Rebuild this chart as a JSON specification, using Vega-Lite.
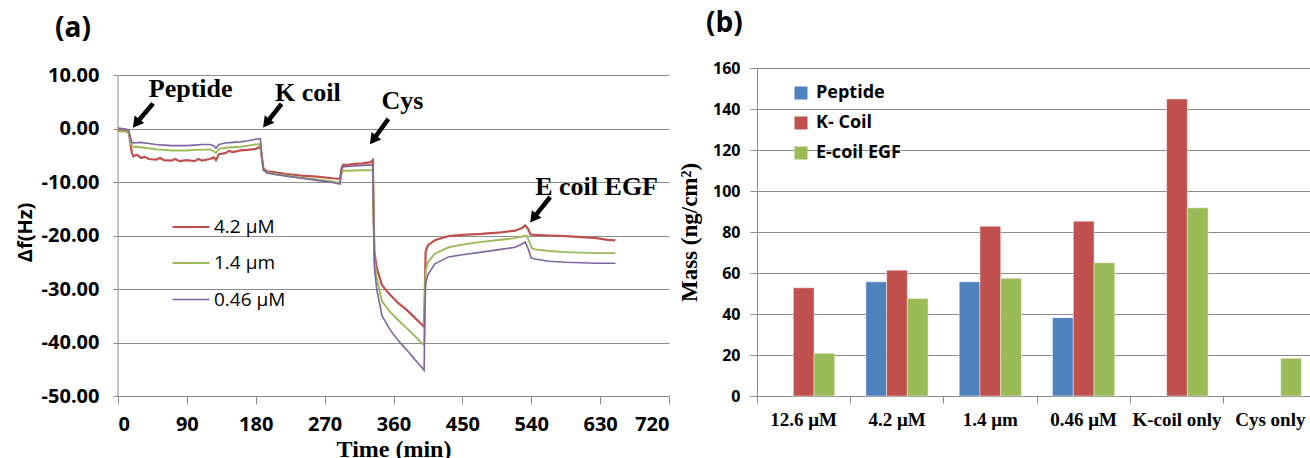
{
  "$schema": "https://vega.github.io/schema/vega-lite/v6.json",
  "padding": {"left": 15, "top": 10, "right": 0, "bottom": 0},
  "background": "white",
  "config": {"view": {"stroke": null}, "font": "Open Sans"},
  "datasets": {
    "qcm": [
      {"s":"4.2 μM","t":0,"v":-0.3},{"s":"4.2 μM","t":5,"v":-0.5},{"s":"4.2 μM","t":10,"v":-0.4},{"s":"4.2 μM","t":14,"v":-0.7},{"s":"4.2 μM","t":16,"v":-2.5},{"s":"4.2 μM","t":18,"v":-4.5},{"s":"4.2 μM","t":20,"v":-5.2},{"s":"4.2 μM","t":25,"v":-4.9},{"s":"4.2 μM","t":30,"v":-5.5},{"s":"4.2 μM","t":35,"v":-5.3},{"s":"4.2 μM","t":40,"v":-5.7},{"s":"4.2 μM","t":50,"v":-5.8},{"s":"4.2 μM","t":55,"v":-5.5},{"s":"4.2 μM","t":60,"v":-5.9},{"s":"4.2 μM","t":70,"v":-6.0},{"s":"4.2 μM","t":75,"v":-5.7},{"s":"4.2 μM","t":80,"v":-6.1},{"s":"4.2 μM","t":90,"v":-5.9},{"s":"4.2 μM","t":100,"v":-6.1},{"s":"4.2 μM","t":105,"v":-5.7},{"s":"4.2 μM","t":110,"v":-6.0},{"s":"4.2 μM","t":120,"v":-5.7},{"s":"4.2 μM","t":125,"v":-5.4},{"s":"4.2 μM","t":128,"v":-5.9},{"s":"4.2 μM","t":132,"v":-4.8},{"s":"4.2 μM","t":140,"v":-4.6},{"s":"4.2 μM","t":145,"v":-4.2},{"s":"4.2 μM","t":150,"v":-4.4},{"s":"4.2 μM","t":160,"v":-4.1},{"s":"4.2 μM","t":170,"v":-4.0},{"s":"4.2 μM","t":180,"v":-3.8},{"s":"4.2 μM","t":186,"v":-3.4},{"s":"4.2 μM","t":188,"v":-5.5},{"s":"4.2 μM","t":190,"v":-7.5},{"s":"4.2 μM","t":195,"v":-8.0},{"s":"4.2 μM","t":205,"v":-8.2},{"s":"4.2 μM","t":220,"v":-8.5},{"s":"4.2 μM","t":240,"v":-8.8},{"s":"4.2 μM","t":260,"v":-9.0},{"s":"4.2 μM","t":280,"v":-9.3},{"s":"4.2 μM","t":290,"v":-9.4},{"s":"4.2 μM","t":292,"v":-7.5},{"s":"4.2 μM","t":294,"v":-6.8},{"s":"4.2 μM","t":300,"v":-6.8},{"s":"4.2 μM","t":310,"v":-6.6},{"s":"4.2 μM","t":320,"v":-6.5},{"s":"4.2 μM","t":330,"v":-6.3},{"s":"4.2 μM","t":333,"v":-5.9},{"s":"4.2 μM","t":334,"v":-15},{"s":"4.2 μM","t":335,"v":-23},{"s":"4.2 μM","t":338,"v":-26},{"s":"4.2 μM","t":345,"v":-29.3},{"s":"4.2 μM","t":355,"v":-31},{"s":"4.2 μM","t":366,"v":-32.6},{"s":"4.2 μM","t":378,"v":-34},{"s":"4.2 μM","t":388,"v":-35.4},{"s":"4.2 μM","t":396,"v":-36.5},{"s":"4.2 μM","t":400,"v":-37.1},{"s":"4.2 μM","t":401,"v":-30},{"s":"4.2 μM","t":402,"v":-23},{"s":"4.2 μM","t":405,"v":-21.8},{"s":"4.2 μM","t":414,"v":-20.9},{"s":"4.2 μM","t":432,"v":-20.1},{"s":"4.2 μM","t":450,"v":-19.9},{"s":"4.2 μM","t":475,"v":-19.7},{"s":"4.2 μM","t":500,"v":-19.4},{"s":"4.2 μM","t":519,"v":-19.1},{"s":"4.2 μM","t":528,"v":-18.6},{"s":"4.2 μM","t":532,"v":-18.1},{"s":"4.2 μM","t":536,"v":-18.8},{"s":"4.2 μM","t":539,"v":-19.8},{"s":"4.2 μM","t":545,"v":-19.9},{"s":"4.2 μM","t":563,"v":-20.0},{"s":"4.2 μM","t":585,"v":-20.1},{"s":"4.2 μM","t":606,"v":-20.3},{"s":"4.2 μM","t":625,"v":-20.5},{"s":"4.2 μM","t":640,"v":-20.8},{"s":"4.2 μM","t":650,"v":-20.9},
      {"s":"1.4 μm","t":0,"v":-0.5},{"s":"1.4 μm","t":5,"v":-0.5},{"s":"1.4 μm","t":10,"v":-0.6},{"s":"1.4 μm","t":14,"v":-0.8},{"s":"1.4 μm","t":16,"v":-2.0},{"s":"1.4 μm","t":18,"v":-3.2},{"s":"1.4 μm","t":20,"v":-3.4},{"s":"1.4 μm","t":30,"v":-3.5},{"s":"1.4 μm","t":40,"v":-3.7},{"s":"1.4 μm","t":50,"v":-3.9},{"s":"1.4 μm","t":60,"v":-4.0},{"s":"1.4 μm","t":70,"v":-4.1},{"s":"1.4 μm","t":80,"v":-4.1},{"s":"1.4 μm","t":90,"v":-4.1},{"s":"1.4 μm","t":100,"v":-4.0},{"s":"1.4 μm","t":110,"v":-4.0},{"s":"1.4 μm","t":120,"v":-3.9},{"s":"1.4 μm","t":125,"v":-4.2},{"s":"1.4 μm","t":128,"v":-4.6},{"s":"1.4 μm","t":132,"v":-3.8},{"s":"1.4 μm","t":140,"v":-3.6},{"s":"1.4 μm","t":150,"v":-3.5},{"s":"1.4 μm","t":160,"v":-3.4},{"s":"1.4 μm","t":170,"v":-3.2},{"s":"1.4 μm","t":180,"v":-3.0},{"s":"1.4 μm","t":186,"v":-2.9},{"s":"1.4 μm","t":188,"v":-5.5},{"s":"1.4 μm","t":190,"v":-7.8},{"s":"1.4 μm","t":195,"v":-8.2},{"s":"1.4 μm","t":205,"v":-8.5},{"s":"1.4 μm","t":220,"v":-8.8},{"s":"1.4 μm","t":240,"v":-9.2},{"s":"1.4 μm","t":260,"v":-9.5},{"s":"1.4 μm","t":280,"v":-9.9},{"s":"1.4 μm","t":290,"v":-10.2},{"s":"1.4 μm","t":292,"v":-8.5},{"s":"1.4 μm","t":294,"v":-7.9},{"s":"1.4 μm","t":300,"v":-7.9},{"s":"1.4 μm","t":320,"v":-7.8},{"s":"1.4 μm","t":333,"v":-7.8},{"s":"1.4 μm","t":334,"v":-16},{"s":"1.4 μm","t":335,"v":-24.5},{"s":"1.4 μm","t":338,"v":-28},{"s":"1.4 μm","t":345,"v":-32.3},{"s":"1.4 μm","t":355,"v":-34.2},{"s":"1.4 μm","t":366,"v":-35.8},{"s":"1.4 μm","t":378,"v":-37.4},{"s":"1.4 μm","t":388,"v":-38.8},{"s":"1.4 μm","t":396,"v":-40.0},{"s":"1.4 μm","t":400,"v":-40.5},{"s":"1.4 μm","t":401,"v":-32},{"s":"1.4 μm","t":402,"v":-26.5},{"s":"1.4 μm","t":405,"v":-25.0},{"s":"1.4 μm","t":414,"v":-23.4},{"s":"1.4 μm","t":432,"v":-22.2},{"s":"1.4 μm","t":450,"v":-21.7},{"s":"1.4 μm","t":475,"v":-21.2},{"s":"1.4 μm","t":500,"v":-20.8},{"s":"1.4 μm","t":519,"v":-20.5},{"s":"1.4 μm","t":528,"v":-20.2},{"s":"1.4 μm","t":534,"v":-20.0},{"s":"1.4 μm","t":537,"v":-21.0},{"s":"1.4 μm","t":541,"v":-22.4},{"s":"1.4 μm","t":545,"v":-22.6},{"s":"1.4 μm","t":563,"v":-22.9},{"s":"1.4 μm","t":585,"v":-23.1},{"s":"1.4 μm","t":606,"v":-23.2},{"s":"1.4 μm","t":625,"v":-23.3},{"s":"1.4 μm","t":650,"v":-23.3},
      {"s":"0.46 μM","t":0,"v":0.1},{"s":"0.46 μM","t":5,"v":0.0},{"s":"0.46 μM","t":10,"v":-0.1},{"s":"0.46 μM","t":14,"v":-0.3},{"s":"0.46 μM","t":16,"v":-1.5},{"s":"0.46 μM","t":18,"v":-2.5},{"s":"0.46 μM","t":20,"v":-2.7},{"s":"0.46 μM","t":30,"v":-2.6},{"s":"0.46 μM","t":40,"v":-2.8},{"s":"0.46 μM","t":50,"v":-3.0},{"s":"0.46 μM","t":60,"v":-3.1},{"s":"0.46 μM","t":70,"v":-3.2},{"s":"0.46 μM","t":80,"v":-3.2},{"s":"0.46 μM","t":90,"v":-3.2},{"s":"0.46 μM","t":100,"v":-3.1},{"s":"0.46 μM","t":110,"v":-3.0},{"s":"0.46 μM","t":120,"v":-3.0},{"s":"0.46 μM","t":125,"v":-3.2},{"s":"0.46 μM","t":128,"v":-3.7},{"s":"0.46 μM","t":132,"v":-3.0},{"s":"0.46 μM","t":140,"v":-2.7},{"s":"0.46 μM","t":150,"v":-2.6},{"s":"0.46 μM","t":160,"v":-2.5},{"s":"0.46 μM","t":170,"v":-2.3},{"s":"0.46 μM","t":180,"v":-2.0},{"s":"0.46 μM","t":186,"v":-1.9},{"s":"0.46 μM","t":188,"v":-5.0},{"s":"0.46 μM","t":190,"v":-7.8},{"s":"0.46 μM","t":195,"v":-8.3},{"s":"0.46 μM","t":205,"v":-8.6},{"s":"0.46 μM","t":220,"v":-8.9},{"s":"0.46 μM","t":240,"v":-9.3},{"s":"0.46 μM","t":260,"v":-9.7},{"s":"0.46 μM","t":280,"v":-10.1},{"s":"0.46 μM","t":290,"v":-10.4},{"s":"0.46 μM","t":292,"v":-7.8},{"s":"0.46 μM","t":294,"v":-7.2},{"s":"0.46 μM","t":300,"v":-7.1},{"s":"0.46 μM","t":320,"v":-6.9},{"s":"0.46 μM","t":333,"v":-6.8},{"s":"0.46 μM","t":334,"v":-17},{"s":"0.46 μM","t":335,"v":-26},{"s":"0.46 μM","t":338,"v":-30},{"s":"0.46 μM","t":345,"v":-35},{"s":"0.46 μM","t":355,"v":-37.5},{"s":"0.46 μM","t":366,"v":-39.6},{"s":"0.46 μM","t":378,"v":-41.5},{"s":"0.46 μM","t":388,"v":-43.2},{"s":"0.46 μM","t":396,"v":-44.5},{"s":"0.46 μM","t":400,"v":-45.2},{"s":"0.46 μM","t":401,"v":-35},{"s":"0.46 μM","t":402,"v":-29},{"s":"0.46 μM","t":405,"v":-27.3},{"s":"0.46 μM","t":414,"v":-25.3},{"s":"0.46 μM","t":432,"v":-24.0},{"s":"0.46 μM","t":450,"v":-23.6},{"s":"0.46 μM","t":475,"v":-23.1},{"s":"0.46 μM","t":500,"v":-22.6},{"s":"0.46 μM","t":519,"v":-22.2},{"s":"0.46 μM","t":528,"v":-21.6},{"s":"0.46 μM","t":532,"v":-21.2},{"s":"0.46 μM","t":536,"v":-22.5},{"s":"0.46 μM","t":540,"v":-24.2},{"s":"0.46 μM","t":545,"v":-24.4},{"s":"0.46 μM","t":563,"v":-24.8},{"s":"0.46 μM","t":585,"v":-25.0},{"s":"0.46 μM","t":606,"v":-25.1},{"s":"0.46 μM","t":625,"v":-25.2},{"s":"0.46 μM","t":650,"v":-25.2}
    ],
    "yaxisline": [{"t": 0, "v": -50, "v2": 10}],
    "arrows": [
      {"t": 45.8, "v": 4.67, "t2": 23.7, "v2": 0.93},
      {"t": 213.7, "v": 4.6, "t2": 193.8, "v2": 0.98},
      {"t": 353.3, "v": 1.8, "t2": 333.4, "v2": -2.14},
      {"t": 564.8, "v": -12.8, "t2": 542.8, "v2": -16.77}
    ],
    "notes": [
      {"label": "Peptide", "t": 94.9, "v": 5.85},
      {"label": "K coil", "t": 248, "v": 5.05},
      {"label": "Cys", "t": 371.6, "v": 3.68},
      {"label": "E coil EGF", "t": 625.4, "v": -12.5}
    ],
    "mass": [
      {"cat": "12.6 μM", "s": "K- Coil", "m": 52.8},
      {"cat": "12.6 μM", "s": "E-coil EGF", "m": 20.8},
      {"cat": "4.2 μM", "s": "Peptide", "m": 55.7},
      {"cat": "4.2 μM", "s": "K- Coil", "m": 61.4},
      {"cat": "4.2 μM", "s": "E-coil EGF", "m": 47.6},
      {"cat": "1.4 μm", "s": "Peptide", "m": 55.7},
      {"cat": "1.4 μm", "s": "K- Coil", "m": 82.8},
      {"cat": "1.4 μm", "s": "E-coil EGF", "m": 57.4},
      {"cat": "0.46 μM", "s": "Peptide", "m": 38.2},
      {"cat": "0.46 μM", "s": "K- Coil", "m": 85.3},
      {"cat": "0.46 μM", "s": "E-coil EGF", "m": 65.0},
      {"cat": "K-coil only", "s": "K- Coil", "m": 144.9},
      {"cat": "K-coil only", "s": "E-coil EGF", "m": 91.8},
      {"cat": "Cys only", "s": "E-coil EGF", "m": 18.4}
    ]
  },
  "hconcat": [
    {
      "width": 551,
      "height": 328,
      "title": {"text": "(a)", "anchor": "start", "frame": "group", "dx": -63, "font": "Open Sans", "fontSize": 28, "fontWeight": "bold", "color": "black", "offset": 22},
      "layer": [
        {
          "data": {"name": "qcm"},
          "mark": {"type": "line", "interpolate": "linear"},
          "encoding": {
            "x": {"field": "t", "type": "quantitative",
              "scale": {"domain": [0, 720], "nice": false, "zero": false},
              "axis": {"values": [0, 90, 180, 270, 360, 450, 540, 630, 720], "grid": false, "domainColor": "#8c8c8c", "tickColor": "#8c8c8c", "tickSize": 8, "labelFont": "Open Sans", "labelFontWeight": "bold", "labelFontSize": 20, "labelColor": "black", "labelPadding": 10, "title": "Time (min)", "titleFont": "Liberation Serif", "titleFontSize": 24, "titleFontWeight": "bold", "titleColor": "black", "titlePadding": 3}},
            "y": {"field": "v", "type": "quantitative",
              "scale": {"domain": [-50, 11.31], "nice": false, "zero": false},
              "axis": {"values": [-50, -40, -30, -20, -10, 0, 10], "grid": true, "gridColor": "#8c8c8c", "domain": false, "tickColor": "#8c8c8c", "tickSize": 5, "labelFont": "Open Sans", "labelFontWeight": "bold", "labelFontSize": 20, "labelColor": "black", "labelPadding": 14, "labelExpr": "replace(format(datum.value, '.2f'), '\u2212', '-')", "title": "Δf(Hz)", "titleFont": "Open Sans", "titleFontSize": 20, "titleFontWeight": "bold", "titleColor": "black", "titlePadding": 6}},
            "color": {"field": "s", "type": "nominal",
              "scale": {"domain": ["4.2 μM", "1.4 μm", "0.46 μM"], "range": ["#C0504D", "#9BBB59", "#8064A2"]},
              "legend": {"orient": "none", "legendX": 53, "legendY": 139, "title": null, "symbolType": "stroke", "symbolSize": 1369, "symbolStrokeWidth": 1.5, "labelFont": "Open Sans", "labelFontSize": 19, "labelColor": "black", "labelOffset": 3, "rowPadding": 6.5, "padding": 0}},
            "strokeWidth": {"field": "s", "type": "nominal", "scale": {"domain": ["4.2 μM", "1.4 μm", "0.46 μM"], "range": [2.2, 1.6, 1.6]}, "legend": null}
          }
        },
        {
          "data": {"name": "yaxisline"},
          "mark": {"type": "rule", "color": "#8c8c8c", "strokeWidth": 1},
          "encoding": {"x": {"field": "t", "type": "quantitative"}, "y": {"field": "v", "type": "quantitative"}, "y2": {"field": "v2"}}
        },
        {
          "data": {"name": "arrows"},
          "mark": {"type": "rule", "color": "black", "strokeWidth": 4.5},
          "encoding": {"x": {"field": "t", "type": "quantitative"}, "y": {"field": "v", "type": "quantitative"}, "x2": {"field": "t2"}, "y2": {"field": "v2"}}
        },
        {
          "data": {"name": "arrows"},
          "mark": {"type": "point", "shape": "triangle-up", "filled": true, "color": "black", "size": 150, "angle": 218, "opacity": 1},
          "encoding": {"x": {"field": "t2", "type": "quantitative"}, "y": {"field": "v2", "type": "quantitative"}}
        },
        {
          "data": {"name": "notes"},
          "mark": {"type": "text", "font": "Liberation Serif", "fontSize": 26, "fontWeight": "bold", "color": "black", "baseline": "alphabetic", "align": "center"},
          "encoding": {"x": {"field": "t", "type": "quantitative"}, "y": {"field": "v", "type": "quantitative"}, "text": {"field": "label"}}
        }
      ]
    },
    {
      "width": 560,
      "height": 328,
      "title": {"text": "(b)", "anchor": "start", "frame": "group", "dx": -51, "font": "Open Sans", "fontSize": 28, "fontWeight": "bold", "color": "black", "offset": 22},
      "layer": [
        {
          "data": {"name": "mass"},
          "mark": {"type": "bar", "stroke": "white", "strokeOpacity": 0.45, "strokeWidth": 1},
          "encoding": {
            "x": {"field": "cat", "type": "nominal", "sort": ["12.6 μM", "4.2 μM", "1.4 μm", "0.46 μM", "K-coil only", "Cys only"],
              "scale": {"domain": ["12.6 μM", "4.2 μM", "1.4 μm", "0.46 μM", "K-coil only", "Cys only"], "paddingInner": 0, "paddingOuter": 0},
              "axis": {"orient": "bottom", "ticks": false, "domainColor": "#8c8c8c", "labelAngle": 0, "labelFont": "Liberation Serif", "labelFontWeight": "bold", "labelFontSize": 19, "labelColor": "black", "labelPadding": 14, "title": null}},
            "xOffset": {"field": "s", "type": "nominal", "scale": {"domain": ["Peptide", "K- Coil", "E-coil EGF"], "paddingOuter": 0.75, "paddingInner": 0}},
            "y": {"field": "m", "type": "quantitative",
              "scale": {"domain": [0, 160], "nice": false},
              "axis": {"values": [0, 20, 40, 60, 80, 100, 120, 140, 160], "grid": true, "gridColor": "#8c8c8c", "domainColor": "#8c8c8c", "tickColor": "#8c8c8c", "tickSize": 7, "labelFont": "Open Sans", "labelFontWeight": "bold", "labelFontSize": 16, "labelColor": "black", "labelPadding": 10, "title": "Mass (ng/cm²)", "titleFont": "Liberation Serif", "titleFontSize": 23, "titleFontWeight": "bold", "titleColor": "black", "titlePadding": 11}},
            "color": {"field": "s", "type": "nominal",
              "scale": {"domain": ["Peptide", "K- Coil", "E-coil EGF"], "range": ["#4F81BD", "#C0504D", "#9BBB59"]},
              "legend": {"orient": "none", "legendX": 35, "legendY": 16, "title": null, "symbolType": "square", "symbolSize": 169, "symbolStrokeWidth": 0, "labelFont": "Open Sans", "labelFontWeight": "bold", "labelFontSize": 18, "labelColor": "black", "labelOffset": 6, "rowPadding": 12, "padding": 0}}
          }
        },
        {
          "data": {"name": "mass"},
          "mark": {"type": "point", "opacity": 0},
          "encoding": {
            "x": {"field": "cat", "type": "nominal", "sort": ["12.6 μM", "4.2 μM", "1.4 μm", "0.46 μM", "K-coil only", "Cys only"],
              "axis": {"orient": "bottom", "bandPosition": 0, "labels": false, "domain": false, "ticks": true, "tickColor": "#8c8c8c", "tickSize": 7, "title": null}}
          }
        }
      ],
      "resolve": {"axis": {"x": "independent"}}
    }
  ],
  "spacing": 88,
  "bounds": "flush",
  "resolve": {"scale": {"color": "independent", "strokeWidth": "independent"}}
}
